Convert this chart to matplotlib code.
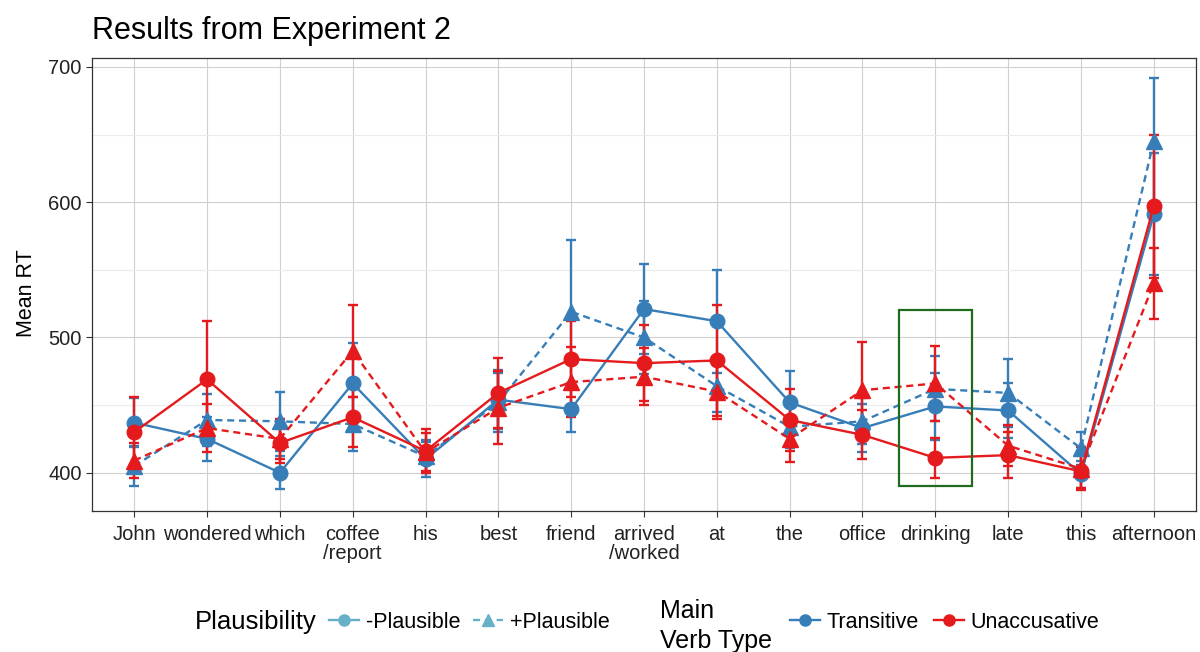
import matplotlib
matplotlib.use("Agg")
import matplotlib.pyplot as plt
from matplotlib.lines import Line2D
from matplotlib.patches import Rectangle
import numpy as np

plt.rcParams['font.family'] = ['Liberation Sans', 'DejaVu Sans']

words = ["John", "wondered", "which", "coffee\n/report", "his", "best", "friend",
         "arrived\n/worked", "at", "the", "office", "drinking", "late", "this", "afternoon"]

trans_minus = [437, 425, 400, 466, 410, 454, 447, 521, 512, 452, 433, 449, 446, 399, 591]
trans_minus_err = [18, 16, 12, 30, 13, 22, 17, 33, 38, 23, 18, 25, 20, 10, 45]
trans_plus = [405, 439, 438, 436, 412, 452, 519, 500, 464, 434, 438, 462, 459, 418, 645]
trans_plus_err = [15, 19, 22, 20, 12, 22, 53, 27, 19, 16, 17, 24, 25, 12, 47]
unacc_minus = [430, 469, 422, 441, 416, 459, 484, 481, 483, 439, 428, 411, 413, 401, 597]
unacc_minus_err = [26, 43, 15, 22, 16, 26, 28, 28, 41, 23, 18, 15, 17, 12, 53]
unacc_plus = [409, 433, 425, 490, 415, 448, 467, 471, 460, 425, 461, 466, 420, 403, 540]
unacc_plus_err = [13, 18, 15, 34, 14, 27, 26, 21, 20, 17, 36, 28, 15, 16, 26]

BLUE = "#377EB8"
RED = "#E41A1C"
TEAL = "#67B1C8"

fig = plt.figure(figsize=(12, 6.52), dpi=100)
ax = fig.add_axes([92/1200, 1-511/652, (1196-92)/1200, (511-58)/652])

x = np.arange(1, len(words)+1)
dash = (0, (3, 2))
series = [
    (trans_minus, trans_minus_err, BLUE, 'o', '-'),
    (trans_plus, trans_plus_err, BLUE, '^', dash),
    (unacc_minus, unacc_minus_err, RED, 'o', '-'),
    (unacc_plus, unacc_plus_err, RED, '^', dash),
]
for vals, errs, col, mk, ls in series:
    ax.errorbar(x, vals, yerr=errs, color=col, marker=mk, linestyle=ls, lw=1.7,
                markersize=10.5 if mk == 'o' else 11.5, elinewidth=1.7, capsize=3.5,
                capthick=1.7, zorder=3)

ax.add_patch(Rectangle((11.5, 390), 1.0, 130, fill=False, edgecolor="#1E6B1E", lw=1.6, zorder=4))

ax.set_xlim(0.42, 15.58)
ax.set_ylim(371.7, 706.6)
ax.set_xticks(x)
ax.set_xticklabels(words, fontsize=14.5, linespacing=1.0)
ax.set_yticks([400, 500, 600, 700])
ax.set_yticks([450, 550, 650], minor=True)
ax.tick_params(axis='y', which='minor', length=0)
ax.tick_params(axis='both', which='major', labelsize=14.5, length=4, width=0.8,
               color='#333333', labelcolor='#222222')
ax.tick_params(axis='x', which='major', pad=6)
ax.grid(True, which='major', color='#d0d0d0', lw=0.8, zorder=0)
ax.grid(True, which='minor', axis='y', color='#ececec', lw=0.8, zorder=0)
ax.set_axisbelow(True)
for s in ax.spines.values():
    s.set_color('#333333')
    s.set_linewidth(0.9)
ax.set_ylabel("Mean RT", fontsize=15.5)
ax.yaxis.set_label_coords(-0.050, 0.48)
ax.set_title("Results from Experiment 2", fontsize=22, loc='left', pad=14)

# Legends
fig.text(195/1200, 1-622/652, "Plausibility", fontsize=18.5, va='center', ha='left')
h1 = [Line2D([], [], color=TEAL, marker='o', ls='-', lw=1.7, markersize=8),
      Line2D([], [], color=TEAL, marker='^', ls=dash, lw=1.7, markersize=9)]
fig.legend(h1, ["-Plausible", "+Plausible"], loc='center left',
           bbox_to_anchor=(329/1200, 1-622/652), ncol=2, frameon=False, fontsize=15.5,
           handlelength=1.4, handletextpad=0.3, columnspacing=0.6, borderaxespad=0, borderpad=0)
fig.text(660/1200, 1-626/652, "Main\nVerb Type", fontsize=18, va='center', ha='left', linespacing=1.3)
h2 = [Line2D([], [], color=BLUE, marker='o', ls='-', lw=1.7, markersize=8),
      Line2D([], [], color=RED, marker='o', ls='-', lw=1.7, markersize=8)]
fig.legend(h2, ["Transitive", "Unaccusative"], loc='center left',
           bbox_to_anchor=(790/1200, 1-622/652), ncol=2, frameon=False, fontsize=15.5,
           handlelength=1.4, handletextpad=0.3, columnspacing=0.7, borderaxespad=0, borderpad=0)

fig.savefig("out.png", dpi=100)
